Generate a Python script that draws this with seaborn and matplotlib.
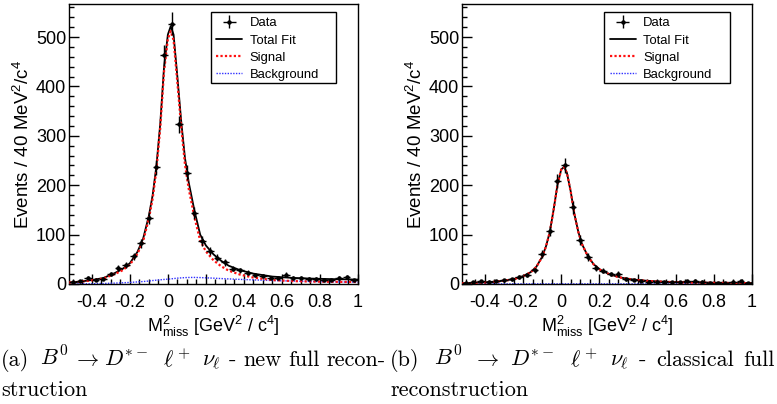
import numpy as np
import pandas as pd
import matplotlib
matplotlib.use("Agg")
import matplotlib.pyplot as plt
import seaborn as sns
from matplotlib.ticker import FixedLocator, MultipleLocator
from matplotlib.patches import Rectangle

# ---------------- data ----------------
bin_centers = [-0.50, -0.46, -0.42, -0.38, -0.34, -0.30, -0.26, -0.22, -0.18, -0.14,
               -0.10, -0.06, -0.02, 0.02, 0.06, 0.10, 0.14, 0.18, 0.22, 0.26,
               0.30, 0.34, 0.38, 0.42, 0.46, 0.50, 0.54, 0.58, 0.62, 0.66,
               0.70, 0.74, 0.78, 0.82, 0.86, 0.90, 0.94, 0.98]
bin_half_width = 0.02

counts_new = [4, 6, 13, 9, 11, 20, 32, 38, 56, 83,
              134, 236, 463, 527, 323, 225, 144, 87, 66, 53,
              44, 31, 28, 23, 18, 16, 13, 13, 19, 12,
              13, 11, 11, 9, 8, 12, 14, 8]
counts_classical = [2, 4, 6, 5, 6, 8, 10, 15, 18, 28,
                    61, 108, 209, 240, 155, 89, 55, 33, 27, 20,
                    21, 10, 8, 6, 5, 4, 4, 4, 4, 6,
                    6, 5, 3, 3, 3, 4, 6, 3]

fit_x = [-0.52, -0.46, -0.40, -0.34, -0.28, -0.24, -0.20, -0.16, -0.13, -0.10,
         -0.08, -0.06, -0.04, -0.02, 0.0, 0.015, 0.03, 0.05, 0.07, 0.09,
         0.11, 0.14, 0.17, 0.20, 0.24, 0.28, 0.32, 0.38, 0.45, 0.55,
         0.65, 0.75, 0.85, 1.0]

total_new = [3, 5, 8, 12, 22, 30, 42, 65, 92, 138,
             180, 240, 325, 440, 505, 522, 505, 420, 330, 255,
             205, 148, 100, 78, 60, 47, 37, 28, 21, 15,
             12.5, 11, 10, 9]
signal_new = [3, 4.5, 7.5, 11, 20, 27.5, 39, 61, 87, 132,
              173, 232, 316, 431, 496, 512, 494, 408, 318, 242,
              192, 135, 88, 66, 48, 36, 27, 19, 13, 8,
              6, 5, 4.5, 4]
background_new = [0.2, 0.4, 0.6, 1.0, 1.8, 2.4, 3.2, 4.2, 5.0, 6.0,
                  7.0, 7.8, 8.5, 9.2, 9.8, 10.3, 11.0, 11.8, 12.4, 12.9,
                  13.2, 13.3, 13.0, 12.5, 11.8, 11.0, 10.3, 9.3, 8.3, 7.0,
                  6.0, 5.2, 4.5, 3.7]

total_classical = [1.5, 2.5, 3.5, 5, 8, 11, 16, 24, 35, 55,
                   76, 105, 150, 200, 232, 237, 225, 187, 140, 105,
                   80, 56, 40, 30, 22, 16.5, 12.5, 9, 6.5, 4.5,
                   3.5, 3, 2.5, 2]
signal_classical = [1.3, 2.2, 3.2, 4.7, 7.7, 10.7, 15.7, 23.7, 34.7, 54.7,
                    75.7, 104.7, 149.7, 199.7, 231.7, 236.7, 224.7, 186.7, 139.7, 104.7,
                    79.7, 55.7, 39.7, 29.7, 21.7, 16.2, 12.2, 8.7, 6.2, 4.2,
                    3.2, 2.7, 2.2, 1.7]
background_classical = [0.2, 0.25, 0.3, 0.3, 0.3, 0.3, 0.3, 0.3, 0.3, 0.3,
                        0.3, 0.3, 0.3, 0.3, 0.3, 0.3, 0.3, 0.3, 0.3, 0.3,
                        0.3, 0.3, 0.3, 0.3, 0.3, 0.3, 0.3, 0.3, 0.3, 0.3,
                        0.3, 0.3, 0.3, 0.3]

x_ticks = [-0.4, -0.2, 0.0, 0.2, 0.4, 0.6, 0.8, 1.0]
x_tick_labels = ["-0.4", "-0.2", "0", "0.2", "0.4", "0.6", "0.8", "1"]
y_ticks = [0, 100, 200, 300, 400, 500]
y_tick_labels = ["0", "100", "200", "300", "400", "500"]
legend_labels = ["Data", "Total Fit", "Signal", "Background"]
x_title = r"M$^{2}_{\mathregular{miss}}$ [GeV$^{2}$ / c$^{4}$]"
y_title = r"Events / 40 MeV$^{2}$/c$^{4}$"

caption_a_line1 = ["(a)", r"$B^0$", r"$\rightarrow$", r"$D^{*-}$", r"$\ell^+$",
                   r"$\nu_\ell$", "-", "new", "full", "recon-"]
caption_a_line2 = "struction"
caption_b_line1 = ["(b)", r"$B^0$", r"$\rightarrow$", r"$D^{*-}$", r"$\ell^+$",
                   r"$\nu_\ell$", "-", "classical", "full"]
caption_b_line2 = "reconstruction"

# ---------------- style ----------------
sns.set_theme(style="white")
plt.rcParams["font.family"] = ["Liberation Sans", "DejaVu Sans"]
plt.rcParams["mathtext.fontset"] = "custom"
plt.rcParams["mathtext.rm"] = "Liberation Sans"
plt.rcParams["mathtext.it"] = "Liberation Sans"
plt.rcParams["axes.unicode_minus"] = False

W, H = 777, 404
fig = plt.figure(figsize=(W / 100, H / 100), dpi=100)
fig.patch.set_facecolor("white")
ax1 = fig.add_axes([69 / W, 120 / H, 289 / W, 280 / H])
ax2 = fig.add_axes([462 / W, 120 / H, 290 / W, 280 / H])


def draw(ax, counts, total, signal, bg):
    df = pd.DataFrame({"x": bin_centers, "n": counts})
    df["err"] = np.sqrt(df["n"])
    fit = pd.DataFrame({"x": fit_x, "total": total, "signal": signal, "background": bg})

    sns.lineplot(data=fit, x="x", y="background", ax=ax, color="#3030ff", lw=1.0,
                 linestyle=(0, (1, 1)), zorder=2)
    l_bg = ax.lines[-1]
    sns.lineplot(data=fit, x="x", y="total", ax=ax, color="black", lw=1.3, zorder=3)
    l_tot = ax.lines[-1]
    sns.lineplot(data=fit, x="x", y="signal", ax=ax, color="#ff1010", lw=1.6,
                 linestyle=(0, (1, 1)), zorder=4)
    l_sig = ax.lines[-1]
    eb = ax.errorbar(df["x"], df["n"], xerr=bin_half_width, yerr=df["err"], fmt="o",
                     ms=2.2, color="black", ecolor="black", elinewidth=1.0, capsize=0,
                     zorder=5)

    ax.set_xlim(-0.52, 1.0)
    ax.set_ylim(0, 567)
    ax.xaxis.set_major_locator(FixedLocator(x_ticks))
    ax.set_xticklabels(x_tick_labels)
    ax.xaxis.set_minor_locator(MultipleLocator(0.05))
    ax.yaxis.set_major_locator(FixedLocator(y_ticks))
    ax.set_yticklabels(y_tick_labels)
    ax.yaxis.set_minor_locator(MultipleLocator(20))
    ax.tick_params(which="both", direction="in", top=False, right=False,
                   bottom=True, left=True, colors="black", width=1.0)
    ax.tick_params(which="major", length=7.5, labelsize=13)
    ax.tick_params(which="minor", length=3.8)
    ax.tick_params(axis="x", which="major", pad=7)
    ax.tick_params(axis="y", which="major", pad=2)
    for s in ax.spines.values():
        s.set_color("black")
        s.set_linewidth(1.0)
    ax.set_xlabel(x_title, fontsize=13, labelpad=2, color="black")
    ax.set_ylabel(y_title, fontsize=13.5, labelpad=2, color="black")
    ax.set_facecolor("white")

    frame = Rectangle((0.491, 0.718), 0.433, 0.254, transform=ax.transAxes,
                      facecolor="white", edgecolor="black", linewidth=1.0,
                      zorder=6, clip_on=False)
    ax.add_patch(frame)
    leg = ax.legend(handles=[eb, l_tot, l_sig, l_bg], labels=legend_labels,
                    loc="upper left", bbox_to_anchor=(0.491, 0.972), frameon=False,
                    fontsize=9.4, handlelength=2.0, handletextpad=0.55,
                    labelspacing=0.38, borderpad=0.42, borderaxespad=0)
    leg.set_zorder(7)
    for t in leg.get_texts():
        t.set_color("black")


draw(ax1, counts_new, total_new, signal_new, background_new)
draw(ax2, counts_classical, total_classical, signal_classical, background_classical)

# ---------------- captions (justified lines) ----------------
cap_kw = dict(family="cmr10", fontsize=16.0, math_fontfamily="cm", va="baseline",
              color="black")
line1_y = 1 - 366 / H
line2_y = 1 - 396 / H
renderer = fig.canvas.get_renderer()


def justify(segments, weights, x0, x1, y):
    texts = [fig.text(0, y, s, **cap_kw) for s in segments]
    widths = [t.get_window_extent(renderer).width for t in texts]
    unit = ((x1 - x0) - sum(widths)) / sum(weights)
    x = x0
    for t, w, g in zip(texts, widths, list(weights) + [0]):
        t.set_x(x / W)
        x += w + g * unit


justify(caption_a_line1, [1.3, 0.6, 0.6, 1.8, 1.5, 0.9, 0.9, 0.9, 0.9], 1, 386, line1_y)
fig.text(1 / W, line2_y, caption_a_line2, **cap_kw)
justify(caption_b_line1, [1.5, 1, 1, 1.6, 1.2, 1, 1, 1], 390, 775, line1_y)
fig.text(390 / W, line2_y, caption_b_line2, **cap_kw)

fig.savefig("out.png", dpi=100, facecolor="white")
